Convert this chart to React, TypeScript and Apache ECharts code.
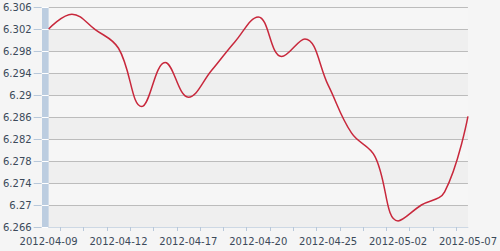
import React, { useEffect, useRef } from "react";
import * as echarts from "echarts";

const dates = [
  "2012-04-09", "2012-04-10", "2012-04-11", "2012-04-12", "2012-04-13",
  "2012-04-16", "2012-04-17", "2012-04-18", "2012-04-19", "2012-04-20",
  "2012-04-23", "2012-04-24", "2012-04-25", "2012-04-26", "2012-04-27",
  "2012-05-02", "2012-05-03", "2012-05-04", "2012-05-07",
];
const rates = [
  6.302, 6.3047, 6.3019, 6.2985, 6.2879, 6.2959, 6.2896, 6.2945, 6.2997, 6.3042,
  6.297, 6.3002, 6.2918, 6.2831, 6.2789, 6.2671, 6.27, 6.2724, 6.2861,
];
const yTicks = [6.266, 6.27, 6.274, 6.278, 6.282, 6.286, 6.29, 6.294, 6.298, 6.302, 6.306];
const xLabelIdx = [0, 3, 6, 9, 12, 15, 18];
const xTickPos = [0.5, 1.5, 2.5, 3.5, 4.5, 5.5, 6.5, 7.5, 8.5, 9.5, 10.5, 11.5, 12.5, 13.5, 14.5, 15.5, 16.5, 17.5];

const Y_MIN = 6.266;
const Y_MAX = 6.306;
const FONT = "DejaVu Sans";
const TEXT = "#3b4a5a";

export default function App() {
  const ref = useRef<HTMLDivElement>(null);
  useEffect(() => {
    if (!ref.current) return;
    const chart = echarts.init(ref.current, null, { renderer: "svg" });
    chart.setOption({
      animation: false,
      backgroundColor: "#f5f5f5",
      grid: { left: 48, right: 30, top: 7, bottom: 24 },
      xAxis: {
        type: "value",
        min: 0,
        max: dates.length - 1,
        z: 3,
        axisLine: { show: true, onZero: false, lineStyle: { color: "#cdd8e4", width: 1 } },
        splitLine: { show: false },
        axisTick: {
          show: true,
          customValues: xTickPos,
          length: 4,
          lineStyle: { color: "#b8c8da", width: 1 },
        },
        axisLabel: {
          customValues: xLabelIdx,
          formatter: (v: number) => dates[Math.round(v)] ?? "",
          color: TEXT,
          fontFamily: FONT,
          fontSize: 10,
          margin: 9,
        },
      },
      yAxis: [
        {
          type: "value",
          min: Y_MIN,
          max: Y_MAX,
          position: "left",
          offset: 3.5,
          z: 1,
          axisLine: { show: true, onZero: false, lineStyle: { color: "#bccde0", width: 7, cap: "butt" } },
          axisTick: { show: false },
          axisLabel: { show: false },
          splitLine: { show: false },
        },
        {
          type: "value",
          min: Y_MIN,
          max: Y_MAX,
          position: "left",
          offset: 0,
          z: 2,
          axisLine: { show: false },
          axisTick: {
            show: true,
            customValues: yTicks,
            length: 7,
            lineStyle: { color: "#ffffff", width: 1 },
          },
          axisLabel: { show: false },
          splitLine: {
            show: true,
            lineStyle: { color: "#bcbcbc", width: 1 },
          },
          splitArea: { show: true, areaStyle: { color: ["#efefef", "#f6f6f6"] } },
        },
        {
          type: "value",
          min: Y_MIN,
          max: Y_MAX,
          position: "left",
          offset: 7,
          z: 2,
          axisLine: { show: false },
          axisTick: {
            show: true,
            customValues: yTicks,
            length: 8,
            lineStyle: { color: "#b8c8da", width: 1 },
          },
          axisLabel: {
            customValues: yTicks,
            formatter: (v: number) => String(parseFloat(v.toFixed(3))),
            color: TEXT,
            fontFamily: FONT,
            fontSize: 10,
            margin: 10,
          },
          splitLine: { show: false },
        },
      ],
      series: [
        {
          type: "line",
          yAxisIndex: 1,
          z: 4,
          data: rates.map((v, i) => [i, v]),
          smooth: 0.4,
          showSymbol: false,
          lineStyle: { color: "#c8283c", width: 1.5 },
        },
      ],
    });
    return () => chart.dispose();
  }, []);
  return (
    <div
      ref={ref}
      style={{ position: "fixed", left: 0, top: 0, width: 500, height: 251 }}
    />
  );
}
